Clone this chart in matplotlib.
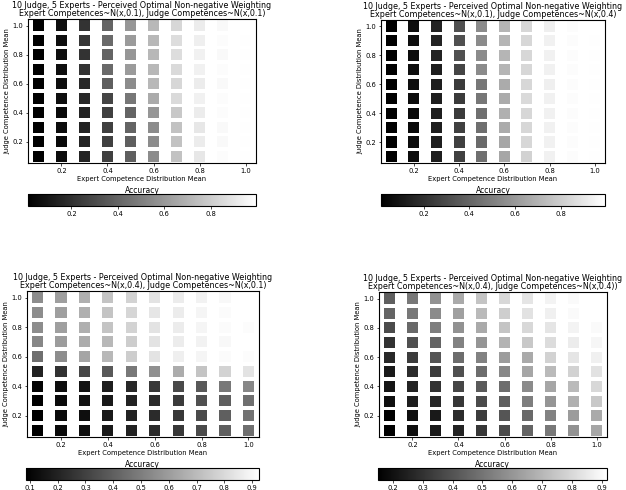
"""Perceived optimal non-negative weighting: accuracy grids for 4 competence spreads."""

import matplotlib
matplotlib.use("Agg")
import matplotlib.pyplot as plt

W, H = 626, 490

expert_means = [0.1, 0.2, 0.3, 0.4, 0.5, 0.6, 0.7, 0.8, 0.9, 1.0]
# rows from top (judge mean 1.0) to bottom (0.1)
judge_means = [1.0, 0.9, 0.8, 0.7, 0.6, 0.5, 0.4, 0.3, 0.2, 0.1]

acc_e01_j01 = [
    [0.013, 0.07, 0.21, 0.40, 0.59, 0.72, 0.84, 0.92, 0.97, 0.994],
    [0.013, 0.07, 0.22, 0.42, 0.61, 0.72, 0.86, 0.93, 0.98, 0.99],
    [0.013, 0.07, 0.21, 0.40, 0.59, 0.72, 0.86, 0.94, 0.97, 0.99],
    [0.013, 0.07, 0.21, 0.42, 0.61, 0.72, 0.85, 0.94, 0.98, 0.99],
    [0.013, 0.07, 0.17, 0.38, 0.55, 0.72, 0.84, 0.92, 0.97, 0.99],
    [0.013, 0.07, 0.17, 0.28, 0.47, 0.67, 0.85, 0.94, 0.98, 0.99],
    [0.014, 0.05, 0.15, 0.26, 0.40, 0.59, 0.78, 0.92, 0.98, 0.99],
    [0.014, 0.06, 0.15, 0.26, 0.40, 0.55, 0.76, 0.90, 0.97, 0.99],
    [0.014, 0.05, 0.15, 0.26, 0.38, 0.55, 0.76, 0.92, 0.97, 0.99],
    [0.014, 0.06, 0.15, 0.26, 0.38, 0.55, 0.76, 0.90, 0.98, 0.99],
]

acc_e01_j04 = [
    [0.013, 0.07, 0.15, 0.32, 0.55, 0.71, 0.84, 0.93, 0.98, 0.995],
    [0.013, 0.07, 0.15, 0.32, 0.55, 0.71, 0.84, 0.94, 0.98, 0.99],
    [0.014, 0.06, 0.15, 0.32, 0.55, 0.71, 0.84, 0.94, 0.98, 0.99],
    [0.014, 0.07, 0.13, 0.28, 0.55, 0.71, 0.84, 0.94, 0.98, 0.99],
    [0.014, 0.07, 0.13, 0.24, 0.47, 0.67, 0.84, 0.93, 0.98, 0.99],
    [0.014, 0.06, 0.13, 0.24, 0.47, 0.67, 0.85, 0.94, 0.98, 0.99],
    [0.014, 0.05, 0.13, 0.24, 0.44, 0.69, 0.84, 0.94, 0.98, 0.99],
    [0.014, 0.05, 0.13, 0.26, 0.44, 0.67, 0.84, 0.94, 0.98, 0.99],
    [0.014, 0.06, 0.13, 0.26, 0.42, 0.65, 0.84, 0.94, 0.98, 0.99],
    [0.014, 0.06, 0.13, 0.26, 0.44, 0.65, 0.82, 0.94, 0.98, 0.99],
]

acc_e04_j01 = [
    [0.55, 0.61, 0.66, 0.73, 0.78, 0.83, 0.86, 0.88, 0.90, 0.925],
    [0.55, 0.61, 0.66, 0.73, 0.79, 0.84, 0.86, 0.89, 0.91, 0.925],
    [0.55, 0.61, 0.66, 0.73, 0.78, 0.83, 0.86, 0.89, 0.91, 0.915],
    [0.53, 0.60, 0.65, 0.69, 0.76, 0.83, 0.86, 0.88, 0.90, 0.925],
    [0.45, 0.55, 0.63, 0.69, 0.76, 0.83, 0.87, 0.89, 0.91, 0.915],
    [0.20, 0.25, 0.32, 0.38, 0.48, 0.56, 0.65, 0.73, 0.78, 0.83],
    [0.10, 0.135, 0.15, 0.185, 0.22, 0.27, 0.33, 0.38, 0.48, 0.53],
    [0.086, 0.12, 0.15, 0.17, 0.20, 0.23, 0.28, 0.35, 0.40, 0.45],
    [0.086, 0.12, 0.135, 0.17, 0.20, 0.23, 0.27, 0.33, 0.40, 0.46],
    [0.086, 0.12, 0.135, 0.17, 0.20, 0.23, 0.27, 0.33, 0.40, 0.45],
]

acc_e04_j04 = [
    [0.435, 0.51, 0.59, 0.66, 0.74, 0.80, 0.84, 0.88, 0.90, 0.918],
    [0.45, 0.51, 0.57, 0.63, 0.71, 0.77, 0.83, 0.87, 0.90, 0.918],
    [0.375, 0.465, 0.53, 0.59, 0.66, 0.74, 0.80, 0.84, 0.88, 0.90],
    [0.30, 0.39, 0.45, 0.54, 0.60, 0.69, 0.75, 0.81, 0.86, 0.89],
    [0.27, 0.33, 0.405, 0.48, 0.54, 0.62, 0.66, 0.78, 0.84, 0.87],
    [0.225, 0.285, 0.33, 0.39, 0.48, 0.56, 0.65, 0.71, 0.78, 0.83],
    [0.21, 0.255, 0.30, 0.36, 0.42, 0.48, 0.57, 0.65, 0.71, 0.80],
    [0.195, 0.24, 0.27, 0.315, 0.375, 0.435, 0.53, 0.60, 0.68, 0.75],
    [0.15, 0.195, 0.225, 0.285, 0.33, 0.405, 0.465, 0.54, 0.62, 0.66],
    [0.15, 0.195, 0.225, 0.255, 0.315, 0.375, 0.45, 0.51, 0.59, 0.65],
]

suptitle = "10 Judge, 5 Experts - Perceived Optimal Non-negative Weighting"
subtitles = [
    "Expert Competences~N(x,0.1), Judge Competences~N(x,0.1)",
    "Expert Competences~N(x,0.1), Judge Competences~N(x,0.4)",
    "Expert Competences~N(x,0.4), Judge Competences~N(x,0.1)",
    "Expert Competences~N(x,0.4), Judge Competences~N(x,0.4))",
]
grids = [acc_e01_j01, acc_e01_j04, acc_e04_j01, acc_e04_j04]

# pixel boxes (left, top, right, bottom) for axes and colorbar
axes_px = [(28, 19, 256, 163), (381, 20, 605, 163), (27, 291, 259, 437), (379, 292, 607, 437)]
cbar_px = [(28, 194, 256, 206), (381, 194, 605, 206), (26, 468, 259, 480), (378, 468, 607, 480)]

FS = 4.9


def px_rect(box):
    l, t, r, b = box
    return [l / W, 1 - b / H, (r - l) / W, (b - t) / H]


def draw_panel(fig, grid, subtitle, ax_box, cb_box):
    ax = fig.add_axes(px_rect(ax_box))
    xs, ys, cs = [], [], []
    for i, jm in enumerate(judge_means):
        for j, em in enumerate(expert_means):
            xs.append(em)
            ys.append(jm)
            cs.append(grid[i][j])
    sc = ax.scatter(xs, ys, c=cs, cmap="gray", marker="s", s=64,
                    edgecolors="none")
    ax.set_xticks([0.2, 0.4, 0.6, 0.8, 1.0])
    ax.set_yticks([0.2, 0.4, 0.6, 0.8, 1.0])
    ax.tick_params(labelsize=FS, length=1.8, width=0.5, pad=1.5)
    for sp in ax.spines.values():
        sp.set_linewidth(0.8)
    ax.set_title(suptitle + "\n" + subtitle, fontsize=5.8, pad=2, linespacing=0.95)
    ax.set_xlabel("Expert Competence Distribution Mean", fontsize=FS, labelpad=1.5)
    ax.set_ylabel("Judge Competence Distribution Mean", fontsize=FS, labelpad=1.5)

    cax = fig.add_axes(px_rect(cb_box))
    cbar = fig.colorbar(sc, cax=cax, orientation="horizontal")
    cbar.set_label("Accuracy", fontsize=FS + 0.6, labelpad=0.5)
    cbar.ax.xaxis.set_label_position("top")
    cbar.ax.tick_params(labelsize=FS, length=1.8, width=0.5, pad=1.5)
    cbar.outline.set_linewidth(0.8)


fig = plt.figure(figsize=(W / 100, H / 100), dpi=100)
for grid, sub, ab, cb in zip(grids, subtitles, axes_px, cbar_px):
    draw_panel(fig, grid, sub, ab, cb)

fig.savefig("out.png", dpi=100)
